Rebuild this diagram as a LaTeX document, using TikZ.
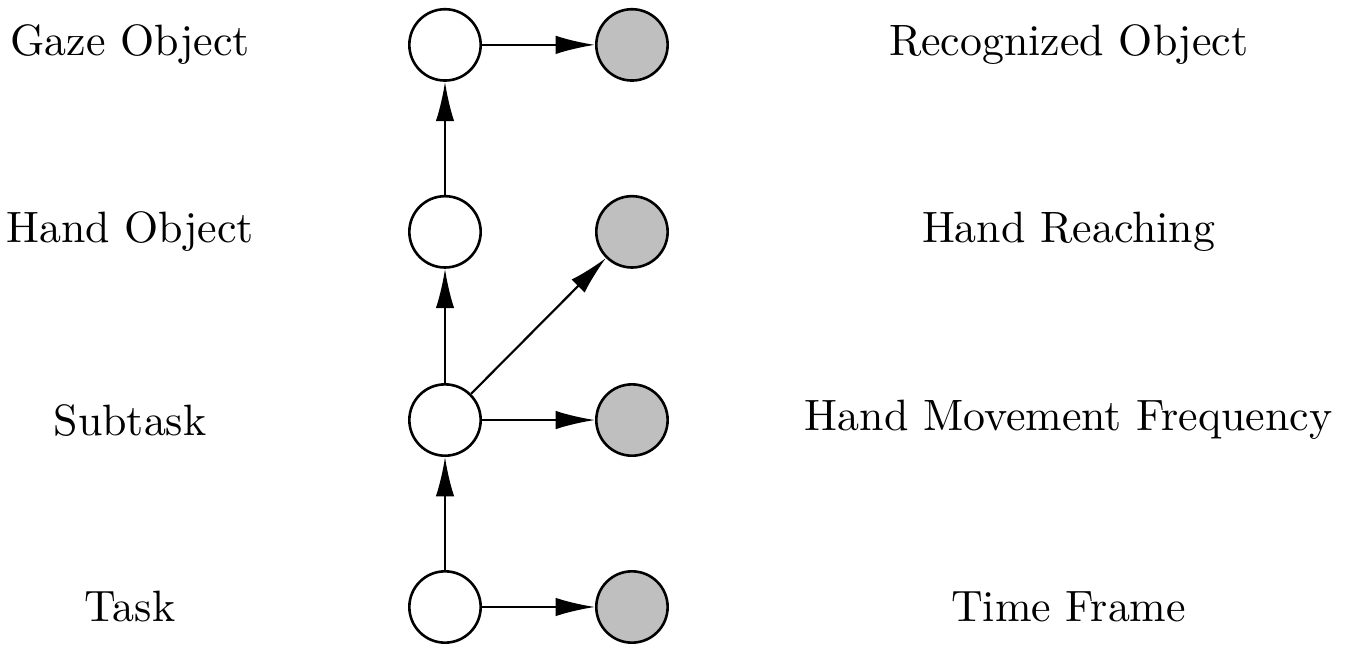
\documentclass[tikz,border=0pt]{standalone}
\usepackage{amsmath,amssymb}
\usepackage{xcolor}
\usepackage{tikz}
\usetikzlibrary{arrows.meta, positioning}
\tikzset{
  hiddenvar/.style={
    circle, draw, line width=0.6pt, fill=white,
    minimum size=0.58cm, inner sep=0pt
  },
  observedvar/.style={
    circle, draw, line width=0.6pt, fill=gray!50,
    minimum size=0.58cm, inner sep=0pt
  },
  modelarrow/.style={
    -{Latex[length=3.2mm, width=1.5mm]}, line width=0.5pt
  },
  levellabel/.style={
    align=center, font=\fontsize{10.15}{12}\selectfont
  },
}

\begin{document}
\begin{tikzpicture}
  \useasboundingbox (-3.618,-0.325) rectangle (7.374,4.935);

  % hidden chain
  \node[hiddenvar] (task) at (0,0) {};
  \node[hiddenvar] (subtask) at (0,1.52) {};
  \node[hiddenvar] (handobj) at (0,3.05) {};
  \node[hiddenvar] (gazeobj) at (0,4.57) {};

  % observations
  \node[observedvar] (timeframe) at (1.52,0) {};
  \node[observedvar] (movefreq) at (1.52,1.52) {};
  \node[observedvar] (reaching) at (1.52,3.05) {};
  \node[observedvar] (recobj) at (1.52,4.57) {};

  % labels
  \node[levellabel] (tasklbl) at (-2.56,0) {Task};
  \node[levellabel] (subtasklbl) at (-2.56,1.52) {Subtask};
  \node[levellabel] (handobjlbl) at (-2.56,3.05) {Hand Object};
  \node[levellabel] (gazeobjlbl) at (-2.56,4.57) {Gaze Object};
  \node[levellabel] (timeframelbl) at (5.07,0) {Time Frame};
  \node[levellabel] (movefreqlbl) at (5.07,1.52) {Hand Movement Frequency};
  \node[levellabel] (reachinglbl) at (5.07,3.05) {Hand Reaching};
  \node[levellabel] (recobjlbl) at (5.07,4.57) {Recognized Object};

  \draw[modelarrow] (task) -- (subtask);
  \draw[modelarrow] (subtask) -- (handobj);
  \draw[modelarrow] (handobj) -- (gazeobj);
  \draw[modelarrow] (task) -- (timeframe);
  \draw[modelarrow] (subtask) -- (movefreq);
  \draw[modelarrow] (subtask) -- (reaching);
  \draw[modelarrow] (gazeobj) -- (recobj);
\end{tikzpicture}
\end{document}
